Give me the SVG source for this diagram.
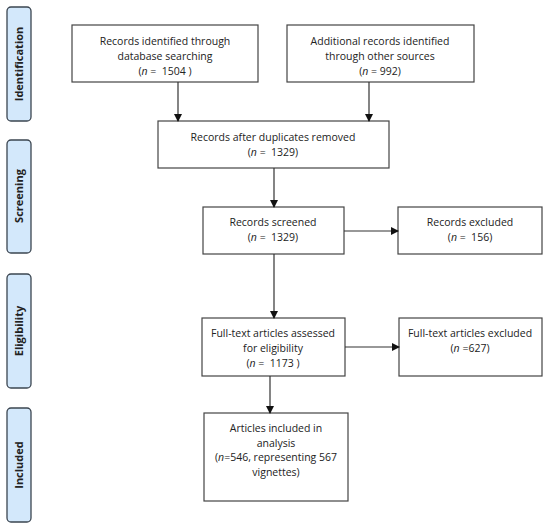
<svg xmlns="http://www.w3.org/2000/svg" width="550" height="529" viewBox="0 0 550 529">
<defs>
<marker id="ah" markerWidth="8" markerHeight="8" refX="7" refY="4" orient="auto" markerUnits="userSpaceOnUse">
<path d="M0,0 L8,4 L0,8 Z" fill="#111"/>
</marker>
</defs>
<style>
.box{fill:#fff;stroke:#444;stroke-width:1.2}
.side{fill:#d3e8fb;stroke:#3b4550;stroke-width:1.3}
.t{font-family:"Open Sans","Liberation Sans",sans-serif;font-size:10.5px;fill:#222;text-anchor:middle}
.s{font-family:"Open Sans","Liberation Sans",sans-serif;font-size:11px;font-weight:bold;fill:#222;text-anchor:middle}
.c{stroke:#333;stroke-width:1.2;fill:none;marker-end:url(#ah)}
</style>
<rect width="550" height="529" fill="#fff"/>
<g id="stage-identification"><rect class="side" x="7" y="7" width="24" height="114" rx="4"/><text class="s" transform="translate(23,64) rotate(-90)">Identification</text></g>
<g id="stage-screening"><rect class="side" x="7" y="140" width="24" height="113" rx="4"/><text class="s" transform="translate(23,196) rotate(-90)">Screening</text></g>
<g id="stage-eligibility"><rect class="side" x="7" y="274" width="24" height="114" rx="4"/><text class="s" transform="translate(23,331) rotate(-90)">Eligibility</text></g>
<g id="stage-included"><rect class="side" x="7" y="408" width="24" height="114" rx="4"/><text class="s" transform="translate(23,465) rotate(-90)">Included</text></g>

<g id="n1"><rect class="box" x="72" y="25" width="186" height="57"/>
<text class="t" x="165" y="45">Records identified through</text>
<text class="t" x="165" y="60">database searching</text>
<text class="t" x="165" y="75">(<tspan font-style="italic">n</tspan> =&#160; 1504 )</text></g>
<g id="n2"><rect class="box" x="287" y="25" width="187" height="57"/>
<text class="t" x="380" y="45">Additional records identified</text>
<text class="t" x="380" y="60">through other sources</text>
<text class="t" x="380" y="75">(<tspan font-style="italic">n</tspan> = 992)</text></g>
<g id="n3"><rect class="box" x="158" y="121" width="231" height="47"/>
<text class="t" x="273" y="141">Records after duplicates removed</text>
<text class="t" x="273" y="156">(<tspan font-style="italic">n</tspan> =&#160; 1329)</text></g>
<g id="n4"><rect class="box" x="203" y="207" width="141" height="47"/>
<text class="t" x="273" y="226">Records screened</text>
<text class="t" x="273" y="241">(<tspan font-style="italic">n</tspan> =&#160; 1329)</text></g>
<g id="n5"><rect class="box" x="398" y="207" width="144" height="47"/>
<text class="t" x="470" y="226">Records excluded</text>
<text class="t" x="470" y="241">(<tspan font-style="italic">n</tspan> =&#160; 156)</text></g>
<g id="n6"><rect class="box" x="202" y="318" width="143" height="58"/>
<text class="t" x="273" y="337">Full-text articles assessed</text>
<text class="t" x="273" y="352">for eligibility</text>
<text class="t" x="273" y="367">(<tspan font-style="italic">n</tspan> =&#160; 1173 )</text></g>
<g id="n7"><rect class="box" x="399" y="318" width="143" height="58"/>
<text class="t" x="470" y="337">Full-text articles excluded</text>
<text class="t" x="470" y="352">(<tspan font-style="italic">n</tspan> =627)</text></g>
<g id="n8"><rect class="box" x="204" y="413" width="144" height="88"/>
<text class="t" x="276" y="432">Articles included in</text>
<text class="t" x="276" y="447">analysis</text>
<text class="t" x="276" y="461">(<tspan font-style="italic">n</tspan>=546, representing 567</text>
<text class="t" x="276" y="476">vignettes)</text></g>

<g id="connectors">
<line class="c" x1="178" y1="82" x2="178" y2="121"/>
<line class="c" x1="369" y1="82" x2="369" y2="121"/>
<line class="c" x1="274" y1="168" x2="274" y2="207"/>
<line class="c" x1="344" y1="231" x2="398" y2="231"/>
<line class="c" x1="274" y1="254" x2="274" y2="318"/>
<line class="c" x1="345" y1="347" x2="399" y2="347"/>
<line class="c" x1="270" y1="376" x2="270" y2="413"/>
</g>
</svg>
